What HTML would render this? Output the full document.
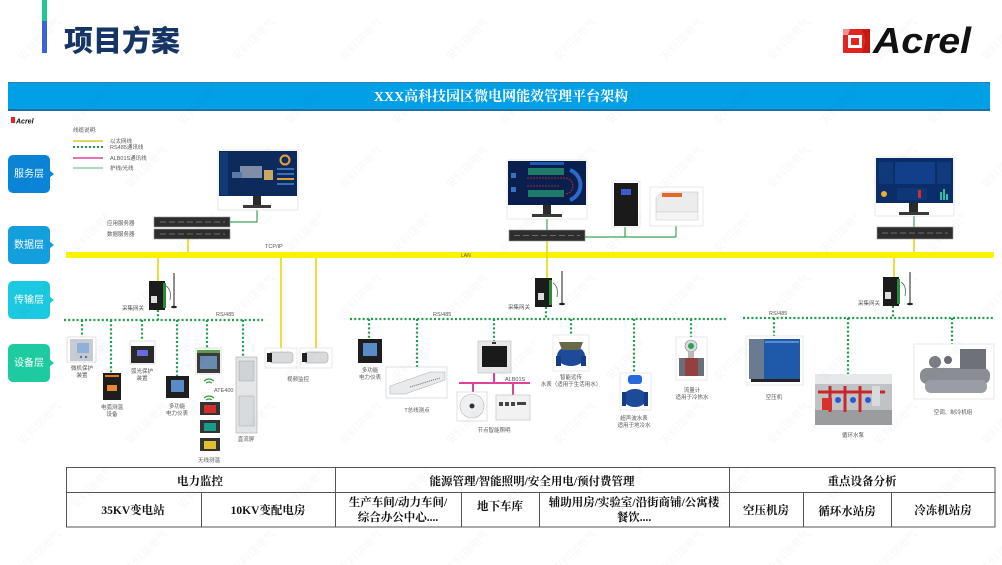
<!DOCTYPE html>
<html><head><meta charset="utf-8">
<style>
html,body{margin:0;padding:0;background:#fff;}
body{width:1002px;height:565px;overflow:hidden;}
svg{display:block;font-family:"Liberation Sans","Noto Sans CJK SC",sans-serif;}
.t{font-size:5.5px;fill:#555;}
.tb{font-family:"Liberation Serif","Noto Serif CJK SC",serif;font-weight:bold;font-size:11.5px;fill:#111;}
.ly{font-family:"Liberation Sans","Noto Sans CJK SC",sans-serif;font-size:10px;fill:#fff;}
</style></head>
<body>
<svg width="1002" height="565" viewBox="0 0 1002 565" xmlns="http://www.w3.org/2000/svg">
<defs>
<pattern id="wm" width="107" height="128" patternUnits="userSpaceOnUse">
<text x="10" y="50" transform="rotate(-45 30 40)" font-size="11" fill="#000" fill-opacity="0.03" font-family="Noto Sans CJK SC, sans-serif">安科瑞电气</text>
<text x="63" y="114" transform="rotate(-45 83 104)" font-size="11" fill="#000" fill-opacity="0.03" font-family="Noto Sans CJK SC, sans-serif">安科瑞电气</text>
</pattern>
</defs>

<!-- header -->
<rect x="42" y="0" width="5" height="21" fill="#1ec98f"/>
<rect x="42" y="21" width="5" height="32" fill="#3b63e0"/>
<text x="64" y="51" font-size="29" font-weight="900" fill="#163466" font-family="Noto Sans CJK SC, sans-serif">项目方案</text>
<!-- Acrel logo -->
<g>
<polygon points="843,29 870,29 870,53 843,53" fill="#e0261f"/>
<polygon points="848,35 862,35 862,48 848,48" fill="#fff"/>
<polygon points="851,38 859,38 859,45 851,45" fill="#e0261f"/>
<polygon points="862,29 870,29 870,53 862,53 866,41" fill="#c41a14"/>
<polygon points="843,29 850,29 848,35 843,35" fill="#fff" opacity="0.5"/>
</g>
<text x="873" y="53" font-size="36" font-weight="bold" font-style="italic" fill="#111" textLength="98" lengthAdjust="spacingAndGlyphs">Acrel</text>

<!-- banner -->
<rect x="8" y="82" width="982" height="29" fill="#00a0e6"/>
<rect x="8" y="82" width="982" height="1" fill="#2d7fb8"/>
<rect x="8" y="109" width="982" height="2" fill="#1a6fa8"/>
<text x="501" y="101" text-anchor="middle" font-size="14" font-weight="bold" fill="#fff" font-family="Liberation Serif, Noto Serif CJK SC, serif">XXX高科技园区微电网能效管理平台架构</text>

<!-- small logo -->
<rect x="11" y="117" width="4" height="6" fill="#e0261f"/>
<text x="16" y="123.5" font-size="7" font-weight="bold" font-style="italic" fill="#111">Acrel</text>

<!-- legend -->
<text x="73" y="132" class="t">线缆说明:</text>
<line x1="73" y1="141" x2="103" y2="141" stroke="#d8c83a" stroke-width="1.5"/>
<line x1="73" y1="147" x2="103" y2="147" stroke="#1f9d4c" stroke-width="2" stroke-dasharray="2 2"/>
<line x1="73" y1="158" x2="103" y2="158" stroke="#e0409a" stroke-width="1.5"/>
<line x1="73" y1="168" x2="103" y2="168" stroke="#8fcaa8" stroke-width="1.5"/>
<text x="110" y="143" class="t" font-size="5">以太网线</text>
<text x="110" y="149" class="t" font-size="5">RS485通讯线</text>
<text x="110" y="160" class="t" font-size="5">ALB01S通讯线</text>
<text x="110" y="170" class="t" font-size="5">护线/光线</text>

<!-- layer boxes -->
<g>
<rect x="8" y="155" width="42" height="38" rx="5" fill="#0a84d6"/><polygon points="49,170 54,174 49,178" fill="#0a84d6"/>
<text x="29" y="177" text-anchor="middle" class="ly">服务层</text>
<rect x="8" y="226" width="42" height="38" rx="5" fill="#149fdc"/><polygon points="49,241 54,245 49,249" fill="#149fdc"/>
<text x="29" y="248" text-anchor="middle" class="ly">数据层</text>
<rect x="8" y="281" width="42" height="38" rx="5" fill="#1bc9e0"/><polygon points="49,296 54,300 49,304" fill="#1bc9e0"/>
<text x="29" y="303" text-anchor="middle" class="ly">传输层</text>
<rect x="8" y="344" width="42" height="38" rx="5" fill="#1ecaa0"/><polygon points="49,359 54,363 49,367" fill="#1ecaa0"/>
<text x="29" y="366" text-anchor="middle" class="ly">设备层</text>
</g>

<!-- LAN bar -->
<rect x="66" y="252" width="928" height="6" fill="#fff200"/>
<text x="461" y="257" font-size="5" fill="#555">LAN</text>
<text x="265" y="248" class="t" font-size="5">TCP/IP</text>

<!-- yellow connectors -->
<g stroke="#e3d400" stroke-width="1.5">
<line x1="188" y1="239" x2="188" y2="252"/>
<line x1="158" y1="258" x2="158" y2="281"/>
<line x1="281" y1="258" x2="281" y2="348"/>
<line x1="316" y1="258" x2="316" y2="348"/>
<line x1="547" y1="241" x2="547" y2="280"/>
<line x1="914" y1="239" x2="914" y2="252"/>
<line x1="894" y1="258" x2="894" y2="277"/>
</g>
<!-- green ethernet -->
<g stroke="#3aa55a" stroke-width="1.2" fill="none">
<polyline points="257,209 257,222 230,222"/>
<line x1="547" y1="219" x2="547" y2="230"/>
<polyline points="585,237 676,237"/>
<line x1="625" y1="227" x2="625" y2="237"/>
<line x1="676" y1="226" x2="676" y2="237"/>
<line x1="914" y1="216" x2="914" y2="227"/>
</g>

<!-- RS485 dotted lines -->
<g stroke="#1f9d4c" stroke-width="2.2" stroke-dasharray="2 2.2" fill="none">
<line x1="64" y1="320" x2="263" y2="320"/>
<line x1="158" y1="310" x2="158" y2="320"/>
<line x1="82" y1="320" x2="82" y2="337"/>
<line x1="111" y1="320" x2="111" y2="373"/>
<line x1="142" y1="320" x2="142" y2="341"/>
<line x1="177" y1="320" x2="177" y2="376"/>
<line x1="207" y1="320" x2="207" y2="348"/>
<line x1="243" y1="320" x2="243" y2="357"/>

<line x1="350" y1="319" x2="728" y2="319"/>
<line x1="546" y1="307" x2="546" y2="319"/>
<line x1="369" y1="319" x2="369" y2="339"/>
<line x1="417" y1="319" x2="417" y2="367"/>
<line x1="494" y1="319" x2="494" y2="341"/>
<line x1="571" y1="319" x2="571" y2="335"/>
<line x1="634" y1="319" x2="634" y2="373"/>
<line x1="691" y1="319" x2="691" y2="337"/>

<line x1="743" y1="318" x2="995" y2="318"/>
<line x1="893" y1="306" x2="893" y2="318"/>
<line x1="774" y1="318" x2="774" y2="336"/>
<line x1="848" y1="318" x2="848" y2="374"/>
<line x1="952" y1="318" x2="952" y2="344"/>
</g>
<text x="216" y="316" class="t" font-size="5">RS/485</text>
<text x="433" y="316" class="t" font-size="5">RS/485</text>
<text x="769" y="315" class="t" font-size="5">RS/485</text>

<!-- ===== Group 1 service ===== -->
<rect x="218" y="150" width="80" height="60" fill="#fff" stroke="#ddd" stroke-width="0.6"/>
<rect x="219" y="151" width="78" height="45" fill="#0d2a5c"/>
<rect x="220" y="152" width="8" height="43" fill="#123a78"/>
<rect x="240" y="166" width="22" height="12" fill="#7f8fa8"/>
<rect x="264" y="170" width="9" height="10" fill="#c9a860"/>
<rect x="232" y="172" width="10" height="6" fill="#5a7aa8"/>
<circle cx="285" cy="160" r="4.5" fill="none" stroke="#e8a33a" stroke-width="2"/>
<rect x="277" y="168" width="17" height="2" fill="#3b6fb0"/>
<rect x="277" y="173" width="17" height="2" fill="#3b6fb0"/>
<rect x="277" y="178" width="17" height="2" fill="#d6a040"/>
<rect x="277" y="183" width="17" height="2" fill="#3b6fb0"/>
<rect x="253" y="196" width="8" height="9" fill="#2a2a2a"/>
<rect x="243" y="205" width="28" height="3" fill="#3a3a3a"/>
<text x="107" y="225" class="t">应用服务器</text>
<text x="107" y="236" class="t">数据服务器</text>
<rect x="154" y="217" width="76" height="10" fill="#2e2e2e" stroke="#999" stroke-width="0.6"/>
<rect x="154" y="229" width="76" height="10" fill="#2e2e2e" stroke="#999" stroke-width="0.6"/>
<g stroke="#9aa" stroke-width="0.6">
<line x1="160" y1="222" x2="225" y2="222" stroke-dasharray="6 3"/>
<line x1="160" y1="234" x2="225" y2="234" stroke-dasharray="6 3"/>
</g>

<!-- gateway 1 -->
<rect x="149" y="281" width="16" height="29" fill="#1c1c1c"/>
<rect x="163" y="283" width="3" height="25" fill="#2d8a3a"/>
<rect x="151" y="296" width="6" height="7" fill="#ddd"/>
<line x1="174" y1="273" x2="174" y2="306" stroke="#444" stroke-width="1.2"/>
<ellipse cx="174" cy="307" rx="3" ry="1.2" fill="#222"/>
<path d="M166 286 Q172 290 170 300" stroke="#666" fill="none" stroke-width="0.8"/>
<text x="122" y="310" class="t">采集网关</text>

<!-- devices group 1 -->
<rect x="67" y="337" width="29" height="25" fill="#fff" stroke="#ccc" stroke-width="0.6"/>
<rect x="70" y="339" width="23" height="22" fill="#c8ccd2"/>
<rect x="77" y="343" width="12" height="10" fill="#8fb0d8"/>
<circle cx="81" cy="357" r="1.2" fill="#4a7ab0"/><circle cx="86" cy="357" r="1.2" fill="#4a7ab0"/>
<text x="82" y="370" text-anchor="middle" class="t">微机保护</text>
<text x="82" y="377" text-anchor="middle" class="t">装置</text>

<rect x="103" y="373" width="18" height="27" fill="#1e1e1e"/>
<rect x="105" y="375" width="14" height="2" fill="#e07a2a"/>
<rect x="107" y="385" width="10" height="6" fill="#e88a2a"/>
<text x="112" y="409" text-anchor="middle" class="t">电弧测温</text>
<text x="112" y="416" text-anchor="middle" class="t">设备</text>

<rect x="130" y="341" width="25" height="23" fill="#fff" stroke="#ccc" stroke-width="0.6"/>
<rect x="131" y="346" width="23" height="17" fill="#2a2a2a"/>
<rect x="137" y="350" width="11" height="6" fill="#6a6ae0"/>
<text x="142" y="373" text-anchor="middle" class="t">弧光保护</text>
<text x="142" y="380" text-anchor="middle" class="t">装置</text>

<rect x="166" y="376" width="23" height="22" fill="#1e1e1e"/>
<rect x="171" y="380" width="13" height="12" fill="#5b8ac8"/>
<text x="177" y="408" text-anchor="middle" class="t">多功能</text>
<text x="177" y="415" text-anchor="middle" class="t">电力仪表</text>

<rect x="196" y="348" width="25" height="26" fill="#fff" stroke="#ccc" stroke-width="0.6"/>
<rect x="197" y="350" width="23" height="23" fill="#3a3a3a"/>
<rect x="197" y="350" width="23" height="3" fill="#5aa050"/>
<rect x="200" y="356" width="17" height="13" fill="#6a8ab0"/>
<path d="M204 381 q5 -4 10 0 M206 383 q3 -2 6 0" stroke="#3aa040" fill="none" stroke-width="1.3"/>
<path d="M204 398 q5 -4 10 0 M206 400 q3 -2 6 0" stroke="#3aa040" fill="none" stroke-width="1.3"/>
<text x="214" y="392" class="t" font-size="4.5">ATE400</text>
<g>
<rect x="200" y="402" width="20" height="13" fill="#333"/><rect x="204" y="405" width="12" height="8" fill="#d03030"/>
<rect x="200" y="420" width="20" height="13" fill="#333"/><rect x="204" y="423" width="12" height="8" fill="#1a9a8a"/>
<rect x="200" y="438" width="20" height="13" fill="#333"/><rect x="204" y="441" width="12" height="8" fill="#e0c030"/>
</g>
<text x="209" y="462" text-anchor="middle" class="t">无线测温</text>

<rect x="236" y="357" width="21" height="76" fill="#e4e6e8" stroke="#aaa" stroke-width="0.6"/>
<rect x="239" y="361" width="15" height="20" fill="#cfd3d6" stroke="#999" stroke-width="0.4"/>
<rect x="239" y="396" width="15" height="30" fill="#d8dbde" stroke="#999" stroke-width="0.4"/>
<text x="246" y="441" text-anchor="middle" class="t">直流屏</text>

<!-- cameras -->
<rect x="265" y="348" width="32" height="20" fill="#fff" stroke="#ddd" stroke-width="0.6"/>
<rect x="269" y="352" width="24" height="11" rx="3" fill="#d9dadc" stroke="#999" stroke-width="0.5"/>
<rect x="267" y="353" width="5" height="9" fill="#222"/>
<rect x="300" y="348" width="32" height="20" fill="#fff" stroke="#ddd" stroke-width="0.6"/>
<rect x="304" y="352" width="24" height="11" rx="3" fill="#d9dadc" stroke="#999" stroke-width="0.5"/>
<rect x="302" y="353" width="5" height="9" fill="#222"/>
<text x="298" y="381" text-anchor="middle" class="t">视频监控</text>

<!-- ===== Group 2 service ===== -->
<rect x="507" y="160" width="80" height="59" fill="#fff" stroke="#ddd" stroke-width="0.6"/>
<rect x="508" y="161" width="78" height="44" fill="#0a1f4e"/>
<rect x="530" y="162" width="34" height="3" fill="#1d5ab0"/>
<rect x="528" y="168" width="36" height="7" fill="#1f7a6a"/>
<rect x="528" y="190" width="36" height="7" fill="#1f7a6a"/>
<path d="M527 178 L565 178 A8 8 0 0 1 565 194 M527 186 L560 186" stroke="#d03030" stroke-width="0.8" fill="none" stroke-dasharray="2 1"/>
<rect x="511" y="173" width="5" height="5" fill="#3a70c0"/>
<rect x="511" y="187" width="5" height="5" fill="#3a70c0"/>
<path d="M570 170 A16 16 0 0 1 570 200" stroke="#2d6ac8" stroke-width="4" fill="none"/>
<rect x="543" y="205" width="8" height="9" fill="#2a2a2a"/>
<rect x="532" y="214" width="30" height="3" fill="#3a3a3a"/>
<rect x="509" y="230" width="76" height="11" fill="#2e2e2e" stroke="#999" stroke-width="0.6"/>
<line x1="514" y1="235.5" x2="580" y2="235.5" stroke="#9aa" stroke-width="0.6" stroke-dasharray="6 3"/>
<!-- UPS -->
<rect x="612" y="181" width="28" height="46" fill="#fff" stroke="#ddd" stroke-width="0.5"/>
<rect x="614" y="183" width="24" height="43" fill="#1a1a1a"/>
<rect x="621" y="189" width="10" height="6" fill="#3a5ad0"/>
<!-- printer -->
<rect x="650" y="187" width="53" height="39" fill="#fff" stroke="#ddd" stroke-width="0.6"/>
<path d="M656 198 L662 192 L698 192 L698 212 L656 212 Z" fill="#ececec" stroke="#bbb" stroke-width="0.5"/>
<rect x="662" y="193" width="20" height="4" fill="#e06a2a"/>
<rect x="656" y="212" width="42" height="8" fill="#f4f4f4" stroke="#ccc" stroke-width="0.5"/>

<!-- gateway 2 -->
<rect x="535" y="278" width="17" height="29" fill="#1c1c1c"/>
<rect x="549" y="280" width="3" height="25" fill="#2d8a3a"/>
<rect x="538" y="293" width="6" height="7" fill="#ddd"/>
<line x1="562" y1="271" x2="562" y2="303" stroke="#444" stroke-width="1.2"/>
<ellipse cx="562" cy="304" rx="3" ry="1.2" fill="#222"/>
<path d="M553 283 Q559 287 557 297" stroke="#666" fill="none" stroke-width="0.8"/>
<text x="508" y="309" class="t">采集网关</text>

<!-- devices group 2 -->
<rect x="358" y="339" width="24" height="24" fill="#1e1e1e"/>
<rect x="363" y="343" width="14" height="13" fill="#5b8ac8"/>
<text x="370" y="372" text-anchor="middle" class="t">多功能</text>
<text x="370" y="379" text-anchor="middle" class="t">电力仪表</text>

<rect x="386" y="367" width="61" height="31" fill="#fff" stroke="#ccc" stroke-width="0.6"/>
<path d="M390 386 L430 372 L445 372 L445 380 L405 394 L390 394 Z" fill="#e8eaec" stroke="#aaa" stroke-width="0.5"/>
<line x1="410" y1="387" x2="440" y2="378" stroke="#666" stroke-width="1" stroke-dasharray="1 1"/>
<text x="417" y="412" text-anchor="middle" class="t">T总线测点</text>

<rect x="478" y="341" width="33" height="32" fill="#e8e8ea" stroke="#bbb" stroke-width="0.6"/>
<rect x="482" y="346" width="25" height="21" fill="#1a1a1a"/>
<rect x="492" y="342" width="4" height="2" fill="#333"/>
<g stroke="#e0409a" stroke-width="2" fill="none">
<line x1="494" y1="373" x2="494" y2="383"/>
<line x1="459" y1="383" x2="530" y2="383"/>
<line x1="473" y1="383" x2="473" y2="393"/>
<line x1="513" y1="383" x2="513" y2="395"/>
</g>
<text x="505" y="381" class="t" font-size="4.5">ALB01S</text>
<rect x="457" y="392" width="30" height="29" fill="#fff" stroke="#ccc" stroke-width="0.6"/>
<circle cx="472" cy="406" r="12" fill="#eef0f2" stroke="#bbb" stroke-width="0.6"/>
<circle cx="472" cy="406" r="2.5" fill="#333"/>
<rect x="496" y="395" width="34" height="25" fill="#f2f2f2" stroke="#bbb" stroke-width="0.6"/>
<g fill="#444"><rect x="499" y="402" width="4" height="4"/><rect x="505" y="402" width="4" height="4"/><rect x="511" y="402" width="4" height="4"/><rect x="517" y="402" width="9" height="3"/></g>
<text x="494" y="432" text-anchor="middle" class="t">节点智能照明</text>

<rect x="553" y="335" width="36" height="36" fill="#fff" stroke="#ddd" stroke-width="0.6"/>
<ellipse cx="571" cy="356" rx="14" ry="10" fill="#1e4a9a"/>
<path d="M559 342 L583 342 L580 350 L562 350 Z" fill="#6a6a4a"/>
<rect x="556" y="356" width="5" height="10" fill="#163c84"/><rect x="581" y="356" width="5" height="10" fill="#163c84"/>
<text x="571" y="379" text-anchor="middle" class="t">智能远传</text>
<text x="571" y="386" text-anchor="middle" class="t">水表（适用于生活用水）</text>

<rect x="620" y="373" width="31" height="37" fill="#fff" stroke="#ddd" stroke-width="0.6"/>
<rect x="628" y="375" width="14" height="9" rx="3" fill="#2a6ad8"/>
<ellipse cx="635" cy="398" rx="12" ry="9" fill="#1e4a9a"/>
<rect x="622" y="392" width="4" height="14" fill="#163c84"/><rect x="644" y="392" width="4" height="14" fill="#163c84"/>
<text x="634" y="420" text-anchor="middle" class="t">超声波水表</text>
<text x="634" y="427" text-anchor="middle" class="t">适用于地冷水</text>

<rect x="676" y="337" width="31" height="43" fill="#fff" stroke="#ddd" stroke-width="0.6"/>
<circle cx="691" cy="346" r="6" fill="#d8dadc" stroke="#888" stroke-width="0.6"/>
<circle cx="691" cy="346" r="3" fill="#2aa05a"/>
<rect x="688" y="352" width="6" height="6" fill="#bbb"/>
<rect x="679" y="358" width="25" height="18" fill="#6a7078"/>
<rect x="685" y="358" width="13" height="18" fill="#b02020" opacity="0.6"/>
<text x="692" y="392" text-anchor="middle" class="t">流量计</text>
<text x="692" y="399" text-anchor="middle" class="t">适用于冷热水</text>

<!-- ===== Group 3 ===== -->
<rect x="875" y="157" width="79" height="59" fill="#fff" stroke="#ddd" stroke-width="0.6"/>
<rect x="876" y="158" width="77" height="45" fill="#0b2d6a"/>
<rect x="895" y="162" width="40" height="22" fill="#123f8a"/>
<rect x="879" y="162" width="14" height="22" fill="#103a7c"/>
<rect x="937" y="162" width="14" height="22" fill="#103a7c"/>
<circle cx="884" cy="194" r="3" fill="#e8b030"/>
<rect x="897" y="188" width="30" height="12" fill="#0f3675"/>
<rect x="918" y="190" width="3" height="8" fill="#d03030"/>
<g fill="#2ac0a0"><rect x="940" y="192" width="2" height="8"/><rect x="943" y="189" width="2" height="11"/><rect x="946" y="194" width="2" height="6"/></g>
<rect x="909" y="203" width="9" height="9" fill="#2a2a2a"/>
<rect x="899" y="212" width="30" height="3" fill="#3a3a3a"/>
<rect x="877" y="227" width="76" height="12" fill="#2e2e2e" stroke="#999" stroke-width="0.6"/>
<line x1="882" y1="233" x2="948" y2="233" stroke="#9aa" stroke-width="0.6" stroke-dasharray="6 3"/>

<!-- gateway 3 -->
<rect x="883" y="277" width="16" height="29" fill="#1c1c1c"/>
<rect x="897" y="279" width="3" height="25" fill="#2d8a3a"/>
<rect x="885" y="292" width="6" height="7" fill="#ddd"/>
<line x1="910" y1="272" x2="910" y2="303" stroke="#444" stroke-width="1.2"/>
<ellipse cx="910" cy="304" rx="3" ry="1.2" fill="#222"/>
<path d="M901 282 Q907 286 905 296" stroke="#666" fill="none" stroke-width="0.8"/>
<text x="858" y="305" class="t">采集网关</text>

<!-- compressor -->
<rect x="746" y="336" width="57" height="49" fill="#fff" stroke="#ddd" stroke-width="0.6"/>
<rect x="749" y="339" width="51" height="40" fill="#1e5aa8"/>
<rect x="749" y="339" width="15" height="40" fill="#6a7a90"/>
<rect x="765" y="341" width="34" height="2" fill="#5a8ad8"/>
<rect x="751" y="379" width="49" height="3" fill="#222"/>
<text x="774" y="399" text-anchor="middle" class="t">空压机</text>

<!-- pump room -->
<rect x="815" y="374" width="77" height="51" fill="#bfc3c6"/>
<rect x="815" y="374" width="77" height="10" fill="#e6e8ea"/>
<rect x="815" y="410" width="77" height="15" fill="#9a9c9e"/>
<path d="M818 392 L885 392 M830 386 L830 412 M845 386 L845 412 M860 386 L860 412" stroke="#c8282a" stroke-width="3" fill="none"/>
<rect x="822" y="398" width="10" height="12" fill="#d8302a"/>
<circle cx="838" cy="400" r="3" fill="#2a5ad0"/><circle cx="853" cy="400" r="3" fill="#2a5ad0"/><circle cx="868" cy="400" r="3" fill="#2a5ad0"/>
<rect x="872" y="386" width="8" height="20" fill="#d8dadc"/>
<text x="853" y="437" text-anchor="middle" class="t">循环水泵</text>

<!-- chiller -->
<rect x="914" y="344" width="80" height="55" fill="#fff" stroke="#ddd" stroke-width="0.6"/>
<rect x="920" y="368" width="70" height="16" rx="7" fill="#8a8e94"/>
<rect x="925" y="380" width="62" height="13" rx="6" fill="#9a9ea4"/>
<rect x="960" y="349" width="26" height="20" fill="#6e7278"/>
<circle cx="935" cy="362" r="6" fill="#7a7e84"/>
<circle cx="948" cy="360" r="4" fill="#6a6e74"/>
<text x="953" y="414" text-anchor="middle" class="t">空调、制冷机组</text>

<!-- table -->
<g stroke="#555" stroke-width="1" fill="none">
<rect x="66.5" y="467.5" width="928.5" height="59.5"/>
<line x1="66.5" y1="492.5" x2="995" y2="492.5"/>
<line x1="335.5" y1="467.5" x2="335.5" y2="527"/>
<line x1="729.5" y1="467.5" x2="729.5" y2="527"/>
<line x1="201.5" y1="492.5" x2="201.5" y2="527"/>
<line x1="461.5" y1="492.5" x2="461.5" y2="527"/>
<line x1="539.5" y1="492.5" x2="539.5" y2="527"/>
<line x1="803.5" y1="492.5" x2="803.5" y2="527"/>
<line x1="891.5" y1="492.5" x2="891.5" y2="527"/>
</g>
<text x="200" y="485" text-anchor="middle" class="tb">电力监控</text>
<text x="532" y="485" text-anchor="middle" class="tb">能源管理/智能照明/安全用电/预付费管理</text>
<text x="862" y="485" text-anchor="middle" class="tb">重点设备分析</text>
<text x="133" y="514" text-anchor="middle" class="tb">35KV变电站</text>
<text x="268" y="514" text-anchor="middle" class="tb">10KV变配电房</text>
<text x="398" y="506" text-anchor="middle" class="tb">生产车间/动力车间/</text>
<text x="398" y="521" text-anchor="middle" class="tb">综合办公中心....</text>
<text x="500" y="510" text-anchor="middle" class="tb">地下车库</text>
<text x="634" y="506" text-anchor="middle" class="tb">辅助用房/实验室/沿街商铺/公寓楼</text>
<text x="634" y="521" text-anchor="middle" class="tb">餐饮....</text>
<text x="766" y="514" text-anchor="middle" class="tb">空压机房</text>
<text x="847" y="515" text-anchor="middle" class="tb">循环水站房</text>
<text x="943" y="514" text-anchor="middle" class="tb">冷冻机站房</text>

<!-- watermark -->
<rect x="0" y="0" width="1002" height="565" fill="url(#wm)" pointer-events="none"/>
</svg>
</body></html>
